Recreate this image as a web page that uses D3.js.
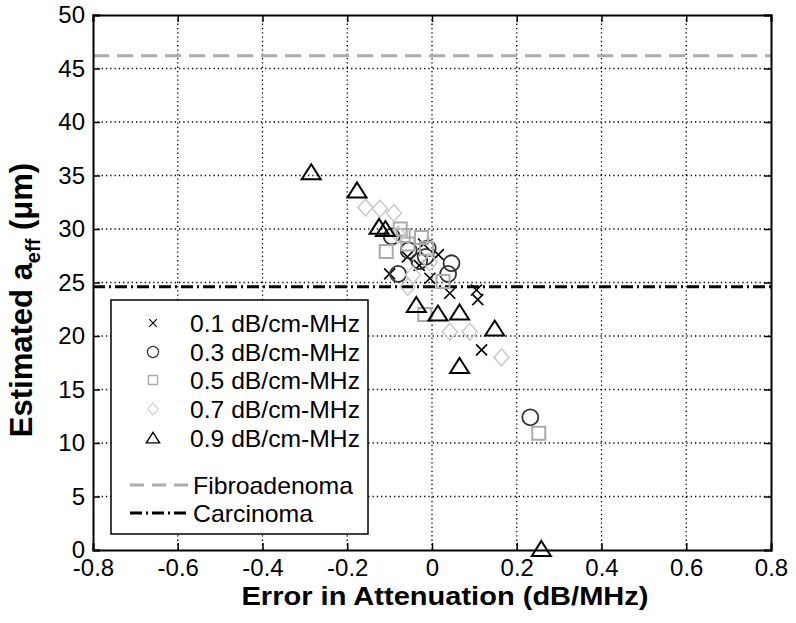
<!DOCTYPE html>
<html>
<head>
<meta charset="utf-8">
<script src="https://cdn.jsdelivr.net/npm/d3@7"></script>
<style>
  body { margin: 0; background: #fff; }
  text { font-family: "Liberation Sans", Arial, sans-serif; }
</style>
</head>
<body>
<svg id="chart" width="796" height="623"></svg>
<script>
// data (x = error in attenuation, y = a_eff in um)
var s01 = [[-0.10, 25.8], [-0.058, 27.4], [-0.03, 26.6], [-0.005, 25.4], [0.015, 27.6],
           [0.042, 24.0], [0.105, 24.3], [0.108, 23.4], [0.117, 18.7], [-0.02, 28.6]]
var s03 = [[-0.095, 29.3], [-0.08, 25.8], [-0.055, 28.0], [-0.015, 27.4], [-0.01, 28.2],
           [0.038, 25.8], [0.046, 26.8], [0.232, 12.4], [-0.03, 27.0]]
var s05 = [[-0.108, 27.9], [-0.075, 30.0], [-0.068, 29.4], [-0.057, 28.6], [-0.025, 29.2],
           [-0.013, 28.2], [0.026, 25.1], [-0.017, 22.0], [0.252, 10.9]]
var s07 = [[-0.157, 32.0], [-0.123, 31.9], [-0.09, 31.5], [-0.08, 29.5], [-0.045, 25.7],
           [-0.057, 24.6], [-0.005, 26.9], [0.042, 20.4], [0.089, 20.4], [0.164, 18.0]]
var s09 = [[-0.285, 35.3], [-0.177, 33.6], [-0.125, 30.2], [-0.11, 30.0], [-0.037, 22.9],
           [0.014, 22.1], [0.065, 22.2], [0.148, 20.7], [0.065, 17.2], [0.258, 0.1]]
var seriesNames = ["0.1 dB/cm-MHz", "0.3 dB/cm-MHz", "0.5 dB/cm-MHz", "0.7 dB/cm-MHz", "0.9 dB/cm-MHz"]
var fibroadenoma = 46.2
var carcinoma = 24.6
var xTicks = [-0.8, -0.6, -0.4, -0.2, 0, 0.2, 0.4, 0.6, 0.8]
var yTicks = [0, 5, 10, 15, 20, 25, 30, 35, 40, 45, 50]

var svg = d3.select("#chart")
var pLeft = 93, pTop = 15, pRight = 771, pBottom = 550

var x = d3.scaleLinear().domain([-0.8, 0.8]).range([pLeft, pRight])
var y = d3.scaleLinear().domain([0, 50]).range([pBottom, pTop])

// grid
svg.append("g").selectAll("line").data(xTicks.slice(1, -1)).enter().append("line")
   .attr("x1", d => x(d)).attr("x2", d => x(d)).attr("y1", pTop).attr("y2", pBottom)
   .attr("stroke", "#000").attr("stroke-width", 1.3).attr("stroke-dasharray", "1.3,3")
svg.append("g").selectAll("line").data(yTicks.slice(1, -1)).enter().append("line")
   .attr("y1", d => y(d)).attr("y2", d => y(d)).attr("x1", pLeft).attr("x2", pRight)
   .attr("stroke", "#000").attr("stroke-width", 1.3).attr("stroke-dasharray", "1.3,3")

// reference lines
svg.append("line").attr("x1", pLeft).attr("x2", pRight)
   .attr("y1", y(fibroadenoma)).attr("y2", y(fibroadenoma))
   .attr("stroke", "#aaa").attr("stroke-width", 3).attr("stroke-dasharray", "16,8")
svg.append("line").attr("x1", pLeft).attr("x2", pRight)
   .attr("y1", y(carcinoma)).attr("y2", y(carcinoma))
   .attr("stroke", "#000").attr("stroke-width", 3).attr("stroke-dasharray", "12,4,2,4")

// axes, ticks pointing inward, box round the plot
var fmt = d => String(d)
svg.append("g").attr("transform", "translate(0," + pBottom + ")")
   .call(d3.axisBottom(x).tickValues(xTicks).tickSize(-7).tickPadding(9).tickFormat(fmt))
svg.append("g").attr("transform", "translate(0," + pTop + ")")
   .call(d3.axisTop(x).tickValues(xTicks).tickSize(-7).tickFormat(""))
svg.append("g").attr("transform", "translate(" + pLeft + ",0)")
   .call(d3.axisLeft(y).tickValues(yTicks).tickSize(-7).tickPadding(8).tickFormat(fmt))
svg.append("g").attr("transform", "translate(" + pRight + ",0)")
   .call(d3.axisRight(y).tickValues(yTicks).tickSize(-7).tickFormat(""))
svg.selectAll(".domain").attr("stroke", "#000").attr("stroke-width", 2)
svg.selectAll(".tick line").attr("stroke", "#000").attr("stroke-width", 1.5)
svg.selectAll(".tick text").attr("font-size", 24).attr("fill", "#000")
   .attr("font-family", "Liberation Sans, Arial, sans-serif")

// markers
var sym = {
  cross: "M-5.5,-5.5L5.5,5.5M-5.5,5.5L5.5,-5.5",
  circle: d3.symbol().type(d3.symbolCircle).size(200)(),
  square: d3.symbol().type(d3.symbolSquare).size(169)(),
  diamond: "M0,-8.5L7.5,0L0,8.5L-7.5,0Z",
  triangle: "M0,-8L9.5,7L-9.5,7Z"
}
var series = [
  { data: s01, shape: sym.cross, color: "#000", sw: 1.6 },
  { data: s03, shape: sym.circle, color: "#333", sw: 1.8 },
  { data: s05, shape: sym.square, color: "#aaa", sw: 2 },
  { data: s07, shape: sym.diamond, color: "#ccc", sw: 1.6 },
  { data: s09, shape: sym.triangle, color: "#000", sw: 2 }
]
series.forEach(function(s) {
  svg.append("g").selectAll("path").data(s.data).enter().append("path")
     .attr("d", s.shape)
     .attr("transform", d => "translate(" + x(d[0]) + "," + y(d[1]) + ")")
     .attr("fill", "none").attr("stroke", s.color).attr("stroke-width", s.sw)
})

// legend
var lg = svg.append("g")
lg.append("rect").attr("x", 111).attr("y", 300).attr("width", 257).attr("height", 234)
  .attr("fill", "#fff").attr("stroke", "#000").attr("stroke-width", 1.5)
var rowY = [323, 352, 380, 409, 438]
series.forEach(function(s, i) {
  lg.append("path").attr("d", s.shape)
    .attr("transform", "translate(153," + rowY[i] + ") scale(0.7)")
    .attr("fill", "none").attr("stroke", s.color).attr("stroke-width", s.sw)
  lg.append("text").attr("x", 190).attr("y", rowY[i]).attr("dy", "0.36em")
    .attr("font-size", 24).attr("textLength", 170).attr("lengthAdjust", "spacingAndGlyphs")
    .text(seriesNames[i])
})
lg.append("line").attr("x1", 130).attr("x2", 188).attr("y1", 485).attr("y2", 485)
  .attr("stroke", "#aaa").attr("stroke-width", 3).attr("stroke-dasharray", "14,8")
lg.append("text").attr("x", 193).attr("y", 485).attr("dy", "0.36em")
  .attr("font-size", 24).attr("textLength", 160).attr("lengthAdjust", "spacingAndGlyphs")
  .text("Fibroadenoma")
lg.append("line").attr("x1", 130).attr("x2", 188).attr("y1", 513).attr("y2", 513)
  .attr("stroke", "#000").attr("stroke-width", 3).attr("stroke-dasharray", "12,4,2,4")
lg.append("text").attr("x", 193).attr("y", 513).attr("dy", "0.36em")
  .attr("font-size", 24).attr("textLength", 120).attr("lengthAdjust", "spacingAndGlyphs")
  .text("Carcinoma")

// axis labels
svg.append("text").attr("x", 445).attr("y", 605).attr("text-anchor", "middle")
   .attr("font-size", 26).attr("font-weight", "bold")
   .attr("textLength", 407).attr("lengthAdjust", "spacingAndGlyphs")
   .text("Error in Attenuation (dB/MHz)")
var yl = svg.append("text").attr("transform", "translate(32,300) rotate(-90)")
   .attr("text-anchor", "middle").attr("font-size", 31).attr("font-weight", "bold")
yl.append("tspan").text("Estimated a")
yl.append("tspan").attr("font-size", 20).attr("dy", 8).text("eff")
yl.append("tspan").attr("dy", -8).text(" (\u03bcm)")
</script>
</body>
</html>
